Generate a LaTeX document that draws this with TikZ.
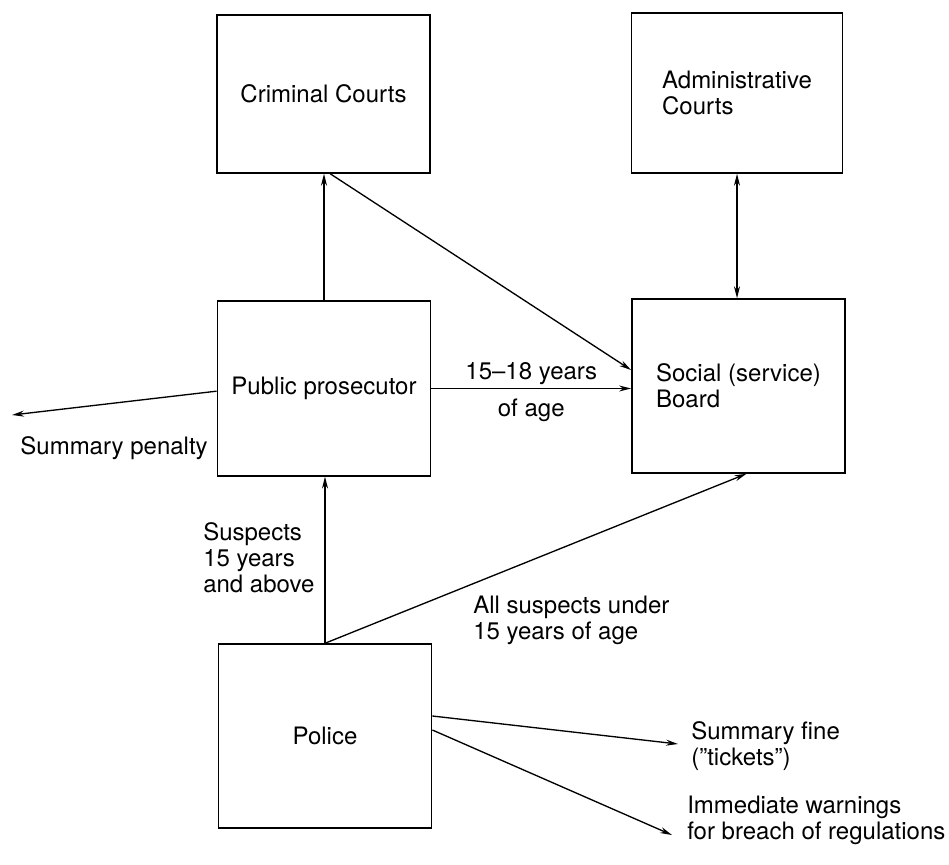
\documentclass[tikz,border=0pt]{standalone}
\usepackage{fontspec}
\setmainfont{TeX Gyre Heros}
\usetikzlibrary{arrows.meta}

\tikzset{
  box/.style={draw, line width=1.1pt, minimum width=160pt, inner sep=0pt},
  lbl/.style={inner sep=0pt, align=left},
  flow/.style={line width=1pt, -{Stealth[length=9pt,width=4.5pt]}}
}

\begin{document}
\begin{tikzpicture}[x=0.75pt,y=-0.75pt,font=\fontsize{18}{19.5}\selectfont]
\useasboundingbox (0,0) rectangle (949,864);

% boxes
\node[box,minimum height=118.5pt] (crim) at (323.5,94) {Criminal Courts};
\node[box,minimum height=120pt,minimum width=158pt,align=left] (admin) at (737,93) {Administrative\\Courts};
\node[box,minimum height=131pt] (pros) at (324,388.5) {Public prosecutor};
\node[box,minimum height=130.5pt,align=left] (social) at (738.5,386) {Social (service)\\Board};
\node[box,minimum height=138pt] (police) at (325,736) {Police};

% connectors between the boxes
\draw[flow] (pros.north) -- (pros.north |- crim.south);
\draw[flow] ([xshift=5pt]crim.south) -- ([yshift=12pt]social.west);
\draw[flow] (pros.east) -- (pros.east -| social.west)
  node[lbl,midway,above=2.5pt] (agetop) {15--18 years}
  node[lbl,midway,below=7pt] (agebot) {of age};
\draw[line width=1pt,{Stealth[length=9pt,width=4.5pt]}-{Stealth[length=9pt,width=4.5pt]}] (admin.south) -- (admin.south |- social.north);
\draw[flow] (police.north) -- (police.north |- pros.south);
\draw[flow] (police.north) -- ([xshift=6pt]social.south);

\node[lbl,anchor=west] (susp) at (203,558) {Suspects\\15 years\\and above};
\node[lbl,anchor=west] (under) at (473,620) {All suspects under\\15 years of age};

% outcomes
\coordinate (pen) at (12,415);
\coordinate (fine) at (678,744);
\coordinate (warn) at (672,835);
\draw[flow] ([yshift=-2pt]pros.west) -- (pen);
\draw[flow] ([yshift=15pt]police.east) -- (fine);
\draw[flow] ([yshift=4.5pt]police.east) -- (warn);

\node[lbl,anchor=east] (penlbl) at (208,448) {Summary penalty};
\node[lbl,anchor=west] (finelbl) at (691,746) {Summary fine\\(''tickets'')};
\node[lbl,anchor=west] (warnlbl) at (687,820) {Immediate warnings\\for breach of regulations};
\end{tikzpicture}
\end{document}
